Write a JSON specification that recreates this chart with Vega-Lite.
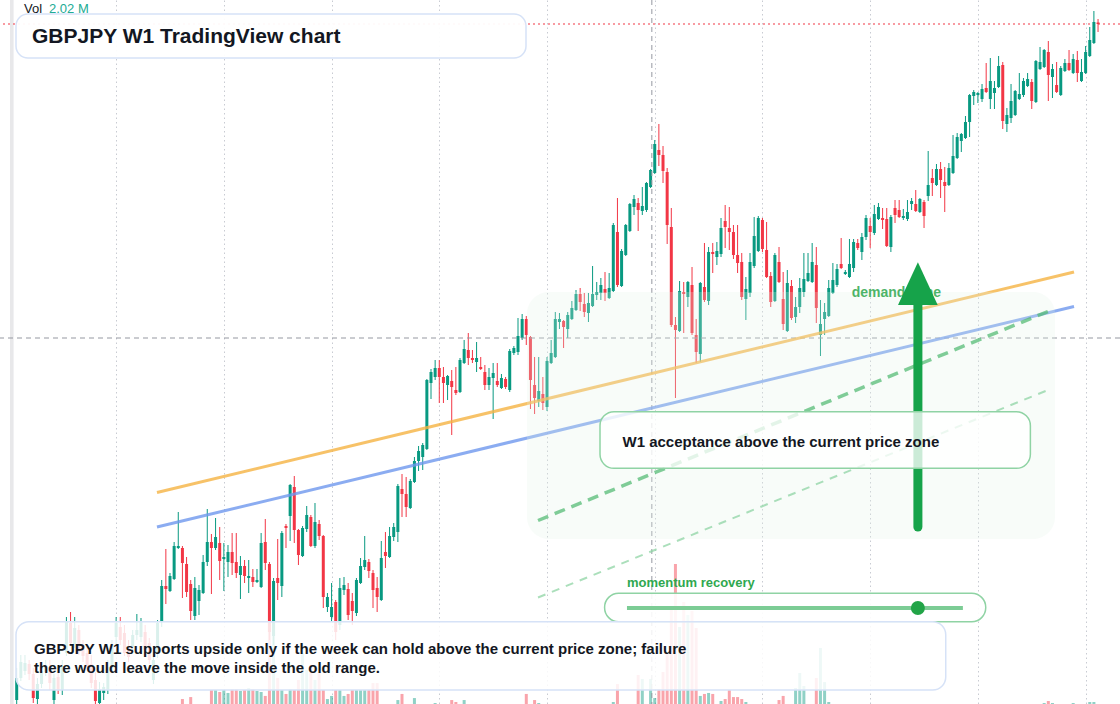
{
"$schema": "https://vega.github.io/schema/vega-lite/v6.json",
"width": 1120, "height": 704,
"autosize": {"type": "none"},
"padding": 0,
"background": "#ffffff",
"config": {"view": {"stroke": null}, "font": "Liberation Sans", "scale": {"continuousPadding": 0}, "axis": {"labels": false, "ticks": false, "domain": false, "grid": true, "gridColor": "#c8cbd2", "gridDash": [1.5, 3], "gridWidth": 1}},
"datasets": {"k": [
{"i":0,"o":130,"h":133.2,"l":129.6,"c":132.2},
{"i":1,"o":132.2,"h":134.5,"l":131.9,"c":133.8},
{"i":2,"o":132.9,"h":134.5,"l":132.5,"c":133.7},
{"i":3,"o":133.6,"h":134,"l":132,"c":132.6},
{"i":4,"o":132.6,"h":133.2,"l":129.7,"c":130.2},
{"i":5,"o":130.1,"h":132.2,"l":129.6,"c":131.6},
{"i":6,"o":131.6,"h":133.6,"l":131.2,"c":132.9},
{"i":7,"o":132.8,"h":134,"l":132.4,"c":133.4},
{"i":8,"o":133.3,"h":134,"l":131,"c":131.7},
{"i":9,"o":130,"h":132.6,"l":129.6,"c":132.2},
{"i":10,"o":132.3,"h":133.2,"l":130.6,"c":131},
{"i":11,"o":131,"h":134,"l":130.5,"c":133.4},
{"i":12,"o":134.7,"h":138.3,"l":134.4,"c":137.8},
{"i":13,"o":137.7,"h":138.8,"l":135.4,"c":135.7},
{"i":14,"o":135.6,"h":138.3,"l":135.2,"c":137.2},
{"i":15,"o":137,"h":137.5,"l":134.5,"c":134.8},
{"i":16,"o":135.5,"h":136,"l":133.8,"c":134.4},
{"i":17,"o":134.7,"h":135.5,"l":133,"c":133.3},
{"i":18,"o":133.6,"h":134.5,"l":131.2,"c":131.7},
{"i":19,"o":132,"h":132.8,"l":129.6,"c":129.9},
{"i":20,"o":129.7,"h":131.8,"l":129.6,"c":131.1},
{"i":21,"o":130.7,"h":131.7,"l":130,"c":131.3},
{"i":22,"o":131,"h":134,"l":130.6,"c":133.3},
{"i":23,"o":133.2,"h":136,"l":132.8,"c":135.5},
{"i":24,"o":136.3,"h":138.3,"l":135.5,"c":137.7},
{"i":25,"o":137.3,"h":138.3,"l":135.5,"c":136},
{"i":26,"o":136.7,"h":137.5,"l":134.4,"c":134.7},
{"i":27,"o":135.3,"h":136,"l":133.8,"c":134.3},
{"i":28,"o":135.3,"h":137,"l":134.8,"c":136.5},
{"i":29,"o":136.5,"h":138.6,"l":136,"c":137},
{"i":30,"o":136.3,"h":138.2,"l":135.8,"c":137.8},
{"i":31,"o":136.8,"h":137.5,"l":134.6,"c":135},
{"i":32,"o":135.7,"h":136.2,"l":133.6,"c":134},
{"i":33,"o":132,"h":134.8,"l":131.6,"c":134},
{"i":34,"o":134.7,"h":138,"l":134.2,"c":137.7},
{"i":35,"o":137.8,"h":142,"l":137.3,"c":141.4},
{"i":36,"o":141.4,"h":145.1,"l":139.6,"c":141.1},
{"i":37,"o":140.9,"h":142.7,"l":140.8,"c":142.4},
{"i":38,"o":142.1,"h":145.8,"l":142,"c":145.4},
{"i":39,"o":145.2,"h":148.8,"l":145.1,"c":145.4},
{"i":40,"o":145.2,"h":145.4,"l":140.2,"c":143.7,"v":0.4},
{"i":41,"o":143.6,"h":144.3,"l":140.3,"c":140.8},
{"i":42,"o":141.6,"h":142,"l":138,"c":138.9,"v":0.56},
{"i":43,"o":138.4,"h":142.3,"l":138,"c":141.2},
{"i":44,"o":139.9,"h":141.5,"l":138.5,"c":141},
{"i":45,"o":140.7,"h":144.5,"l":140.6,"c":143.8},
{"i":46,"o":143.8,"h":149.1,"l":143.4,"c":145.8},
{"i":47,"o":145.8,"h":146.6,"l":140.6,"c":145.2,"v":1.13},
{"i":48,"o":145.2,"h":148.2,"l":145,"c":146.3,"v":1.13},
{"i":49,"o":145.7,"h":147.3,"l":142,"c":143.9,"v":0.97},
{"i":50,"o":144.1,"h":145.7,"l":140.9,"c":144.3,"v":1.13},
{"i":51,"o":143.8,"h":145.5,"l":142.3,"c":144.8,"v":0.89},
{"i":52,"o":144.8,"h":146.7,"l":142.5,"c":143.7,"v":1.21},
{"i":53,"o":143.8,"h":146.7,"l":142.2,"c":142.7,"v":1.21},
{"i":54,"o":142.5,"h":144.4,"l":140.1,"c":143.4,"v":1.05},
{"i":55,"o":143.4,"h":144,"l":141.7,"c":142.4,"v":1.13},
{"i":56,"o":142.2,"h":144,"l":140.7,"c":142.4,"v":1.29},
{"i":57,"o":142.3,"h":143.1,"l":141.3,"c":141.8,"v":1.21},
{"i":58,"o":141.8,"h":143.1,"l":141.7,"c":142,"v":1.05},
{"i":59,"o":141.3,"h":146.7,"l":141.2,"c":145.7,"v":0.97},
{"i":60,"o":145.8,"h":148.1,"l":143,"c":143.7,"v":0.65},
{"i":61,"o":143.6,"h":143.8,"l":136,"c":136.8,"v":6.53},
{"i":62,"o":136.4,"h":142.2,"l":135.5,"c":141.9,"v":6.77},
{"i":63,"o":142.2,"h":146.1,"l":140,"c":141.7,"v":2.1},
{"i":64,"o":141.4,"h":146.9,"l":140.3,"c":146.7,"v":1.13},
{"i":65,"o":147.4,"h":147.6,"l":145.2,"c":147.2,"v":0.81},
{"i":66,"o":148.4,"h":151.6,"l":145.9,"c":151.5,"v":1.21},
{"i":67,"o":151.3,"h":152.4,"l":145.7,"c":147,"v":1.13},
{"i":68,"o":147,"h":147.1,"l":143.5,"c":144.5,"v":1.94},
{"i":69,"o":144.4,"h":147.4,"l":144.3,"c":147.2,"v":4.11},
{"i":70,"o":147.1,"h":149.4,"l":146.8,"c":148.5,"v":2.74},
{"i":71,"o":148.3,"h":148.5,"l":145.3,"c":145.4,"v":3.15},
{"i":72,"o":145.4,"h":149.7,"l":145.2,"c":147.8,"v":1.94},
{"i":73,"o":147.6,"h":148,"l":146,"c":146.4,"v":2.58},
{"i":74,"o":146.4,"h":146.5,"l":139.2,"c":140.3,"v":1.13},
{"i":75,"o":139.3,"h":140.7,"l":138.8,"c":140.3,"v":0.4},
{"i":76,"o":138.3,"h":141.7,"l":137.8,"c":139.3,"v":0.65},
{"i":77,"o":139.8,"h":140,"l":136,"c":136.8,"v":1.13},
{"i":78,"o":137.5,"h":142.2,"l":137,"c":141.2,"v":1.13},
{"i":79,"o":141,"h":142.3,"l":140.5,"c":141.5,"v":0.65},
{"i":80,"o":141.1,"h":141.7,"l":138,"c":138.5,"v":0.81},
{"i":81,"o":139.9,"h":140.7,"l":137.5,"c":138.9,"v":1.13},
{"i":82,"o":138.7,"h":142.2,"l":138.4,"c":142,"v":1.13},
{"i":83,"o":141.7,"h":144.2,"l":141.6,"c":143.4,"v":1.13},
{"i":84,"o":143.3,"h":146.4,"l":143,"c":144,"v":1.13},
{"i":85,"o":143.8,"h":144.1,"l":142.2,"c":142.9,"v":1.13},
{"i":86,"o":142.7,"h":143,"l":139.2,"c":141,"v":1.69},
{"i":87,"o":141.2,"h":142.3,"l":138.8,"c":140.3,"v":1.69},
{"i":88,"o":140,"h":145.9,"l":139.9,"c":144.2},
{"i":89,"o":144.8,"h":146.8,"l":143.2,"c":144.4},
{"i":90,"o":144.3,"h":147.3,"l":144.2,"c":146.4},
{"i":91,"o":146.3,"h":147.7,"l":145.9,"c":147.3},
{"i":92,"o":146.8,"h":151.6,"l":145.8,"c":151.4,"v":0.32},
{"i":93,"o":151.1,"h":152.6,"l":148.3,"c":150.6,"v":0.81},
{"i":94,"o":150.6,"h":152.3,"l":148.3,"c":149.3},
{"i":95,"o":149.2,"h":152.1,"l":149.1,"c":151.9},
{"i":96,"o":151.8,"h":154.3,"l":151.7,"c":153.9,"v":0.48},
{"i":97,"o":153.9,"h":155.4,"l":152.9,"c":154.9},
{"i":98,"o":154.3,"h":155.7,"l":153,"c":155.5},
{"i":99,"o":155.1,"h":162.1,"l":155,"c":162},
{"i":100,"o":161.7,"h":163.1,"l":160.1,"c":162.8},
{"i":101,"o":162.3,"h":164,"l":162,"c":163.2,"v":0.08},
{"i":102,"o":163.2,"h":164,"l":159.7,"c":162.3},
{"i":103,"o":162.3,"h":163.3,"l":159.7,"c":161.7},
{"i":104,"o":161.5,"h":162.5,"l":160,"c":162.4},
{"i":105,"o":161.9,"h":163,"l":156.5,"c":161.3,"v":0.32},
{"i":106,"o":161,"h":163.3,"l":160.5,"c":160.7,"v":0.16},
{"i":107,"o":160.8,"h":164.2,"l":160.7,"c":164},
{"i":108,"o":163.7,"h":166,"l":163.6,"c":165.1,"v":0.32},
{"i":109,"o":165,"h":166.7,"l":163.5,"c":164.2},
{"i":110,"o":164.2,"h":165,"l":163.7,"c":164},
{"i":111,"o":163.8,"h":165.8,"l":162.8,"c":164.2},
{"i":112,"o":163.3,"h":164.3,"l":163,"c":163.1},
{"i":113,"o":162.8,"h":163.5,"l":161,"c":161.5},
{"i":114,"o":161.5,"h":163.2,"l":161,"c":162.3},
{"i":115,"o":162.2,"h":163.7,"l":158.1,"c":162.7},
{"i":116,"o":161.9,"h":163.7,"l":161.3,"c":161.5},
{"i":117,"o":161.2,"h":162.6,"l":161.1,"c":162.2},
{"i":118,"o":162.1,"h":162.3,"l":161.1,"c":161.3},
{"i":119,"o":161,"h":165.1,"l":160.8,"c":164.9},
{"i":120,"o":164.7,"h":165.4,"l":164.5,"c":165.2},
{"i":121,"o":164.8,"h":168.2,"l":164.5,"c":166.4},
{"i":122,"o":166.2,"h":168.6,"l":166,"c":168.1},
{"i":123,"o":168.1,"h":168.4,"l":165.5,"c":166.5,"v":0.81},
{"i":124,"o":166.3,"h":166.4,"l":159.1,"c":162},
{"i":125,"o":161.5,"h":164.3,"l":158.6,"c":160.2,"v":0.32},
{"i":126,"o":159.9,"h":164.3,"l":159.3,"c":160.9,"v":0.08},
{"i":127,"o":160.6,"h":162.3,"l":159,"c":159.7},
{"i":128,"o":159.3,"h":164.3,"l":158.9,"c":163.9},
{"i":129,"o":163.7,"h":166,"l":163.6,"c":164.7},
{"i":130,"o":164.3,"h":168.8,"l":164.2,"c":168.1},
{"i":131,"o":167.8,"h":168.7,"l":167.1,"c":168.1},
{"i":132,"o":167.9,"h":168,"l":165.2,"c":167.3},
{"i":133,"o":167.1,"h":168.8,"l":166.2,"c":168.5},
{"i":134,"o":168.1,"h":169.9,"l":168,"c":169.2},
{"i":135,"o":169,"h":171,"l":168.9,"c":170.6},
{"i":136,"o":170.6,"h":171.2,"l":168.9,"c":169.8},
{"i":137,"o":169.6,"h":170.7,"l":168.3,"c":168.8},
{"i":138,"o":168.7,"h":170.7,"l":167.8,"c":169.7},
{"i":139,"o":169.4,"h":173.4,"l":169.3,"c":170.6},
{"i":140,"o":170.5,"h":171.8,"l":170,"c":170.8},
{"i":141,"o":170.7,"h":172.2,"l":170,"c":171.5},
{"i":142,"o":171.1,"h":172.8,"l":169.9,"c":170.7},
{"i":143,"o":170.2,"h":172.7,"l":170.1,"c":171.2},
{"i":144,"o":170.9,"h":177.7,"l":170.8,"c":177.5,"v":0.16},
{"i":145,"o":176.8,"h":180.2,"l":171.3,"c":171.5,"v":1.61},
{"i":146,"o":171.4,"h":175.1,"l":171.3,"c":174.9},
{"i":147,"o":174.5,"h":177.6,"l":174.4,"c":177.5},
{"i":148,"o":176.9,"h":179.7,"l":176.8,"c":179.6},
{"i":149,"o":179.3,"h":180.5,"l":178.5,"c":180.1},
{"i":150,"o":179.7,"h":180.2,"l":176.9,"c":179,"v":2.34},
{"i":151,"o":178.9,"h":181.3,"l":178.5,"c":179.4,"v":2.02},
{"i":152,"o":179,"h":181.8,"l":178.8,"c":181.7},
{"i":153,"o":181.3,"h":183.1,"l":181.2,"c":183,"v":2.02},
{"i":154,"o":182.7,"h":186,"l":182.6,"c":185.6,"v":0.48},
{"i":155,"o":185,"h":187.6,"l":183.4,"c":184.5,"v":1.21},
{"i":156,"o":184.5,"h":185.4,"l":181.7,"c":182.9,"v":2.58},
{"i":157,"o":182.8,"h":183.2,"l":175.6,"c":177.5,"v":4.03},
{"i":158,"o":177.3,"h":179.2,"l":167.3,"c":167.5,"v":7.58},
{"i":159,"o":167.5,"h":168.3,"l":160.2,"c":167,"v":11.29},
{"i":160,"o":166.9,"h":171.9,"l":166.8,"c":170.9,"v":6.21},
{"i":161,"o":170.8,"h":171.8,"l":166.7,"c":170.6,"v":8.23},
{"i":162,"o":170.3,"h":171.9,"l":169.3,"c":171.8,"v":7.18},
{"i":163,"o":171.5,"h":173.3,"l":166.5,"c":166.7,"v":7.5},
{"i":164,"o":166.5,"h":168.1,"l":163.7,"c":164.8,"v":6.13},
{"i":165,"o":164.6,"h":171.8,"l":163.8,"c":171.7,"v":0.65},
{"i":166,"o":171.3,"h":175.7,"l":169.8,"c":170,"v":0.81},
{"i":167,"o":169.9,"h":175.3,"l":169.5,"c":174.8,"v":0.89},
{"i":168,"o":174.8,"h":175.7,"l":172.7,"c":174.6,"v":0.81},
{"i":169,"o":174.3,"h":175.8,"l":173.5,"c":174.9},
{"i":170,"o":174.6,"h":178.2,"l":174.3,"c":177.2,"v":0.24},
{"i":171,"o":177.9,"h":179.5,"l":175.2,"c":177.3,"v":0.4},
{"i":172,"o":177.2,"h":179.3,"l":175,"c":176.8,"v":1.13},
{"i":173,"o":176.8,"h":177.5,"l":174.1,"c":174.5,"v":0.56},
{"i":174,"o":174.5,"h":177.5,"l":172.7,"c":173.7,"v":0.56},
{"i":175,"o":173.8,"h":174.7,"l":170,"c":170.3,"v":0.4},
{"i":176,"o":170.1,"h":172.3,"l":168,"c":171.1,"v":0.16},
{"i":177,"o":170.7,"h":174.7,"l":170.3,"c":173.8},
{"i":178,"o":173.4,"h":178.3,"l":173.2,"c":176.4},
{"i":179,"o":174.9,"h":178.4,"l":174.8,"c":178.2},
{"i":180,"o":178,"h":178.2,"l":174.8,"c":175.1},
{"i":181,"o":175,"h":177.8,"l":172.2,"c":172.3},
{"i":182,"o":172.4,"h":172.8,"l":169.3,"c":169.8},
{"i":183,"o":169.9,"h":174.7,"l":169.8,"c":174.5},
{"i":184,"o":173.8,"h":175.3,"l":171.7,"c":171.8,"v":0.32},
{"i":185,"o":170.1,"h":172.8,"l":167,"c":167.6,"v":0.65},
{"i":186,"o":166.9,"h":173,"l":166.8,"c":171.7},
{"i":187,"o":171.4,"h":172,"l":168,"c":168.2},
{"i":188,"o":168.3,"h":170.3,"l":167.7,"c":169.3,"v":1.29},
{"i":189,"o":169.3,"h":172.2,"l":168.7,"c":171.2,"v":2.5},
{"i":190,"o":170.8,"h":174.7,"l":170.3,"c":172.1,"v":1.45},
{"i":191,"o":171.9,"h":174.7,"l":171.8,"c":172.7},
{"i":192,"o":171.8,"h":175.7,"l":171.7,"c":173.8},
{"i":193,"o":173.5,"h":175.3,"l":167.7,"c":169.2,"v":2.1},
{"i":194,"o":166.5,"h":170,"l":164.4,"c":167.6,"v":4.52},
{"i":195,"o":168.1,"h":169.7,"l":166.5,"c":168.8,"v":1.77},
{"i":196,"o":168.4,"h":172,"l":168.3,"c":171.2,"v":0.16},
{"i":197,"o":170.7,"h":173.7,"l":170.6,"c":172},
{"i":198,"o":171.5,"h":173.6,"l":171.3,"c":173.1},
{"i":199,"o":173.6,"h":176.2,"l":173.1,"c":173.2},
{"i":200,"o":172.6,"h":173,"l":172.5,"c":172.8},
{"i":201,"o":172.3,"h":176.1,"l":172.2,"c":173.6},
{"i":202,"o":173.2,"h":176.1,"l":172.8,"c":175.8},
{"i":203,"o":175.7,"h":176.1,"l":175,"c":175.2},
{"i":204,"o":174.8,"h":176.7,"l":174,"c":176.3},
{"i":205,"o":176.3,"h":178.5,"l":176,"c":178.2},
{"i":206,"o":177.4,"h":178.2,"l":175.2,"c":176.8},
{"i":207,"o":176.7,"h":179.5,"l":176.5,"c":178.6},
{"i":208,"o":178.1,"h":179.7,"l":178,"c":179.3},
{"i":209,"o":178.2,"h":179.2,"l":177.1,"c":178},
{"i":210,"o":178.1,"h":179.2,"l":175.3,"c":175.4},
{"i":211,"o":175.3,"h":178.5,"l":174.8,"c":178.3},
{"i":212,"o":179.2,"h":180,"l":177.7,"c":178.5},
{"i":213,"o":179,"h":180,"l":178.2,"c":178.3},
{"i":214,"o":178.2,"h":179.1,"l":178,"c":178.4},
{"i":215,"o":178.1,"h":180,"l":177.9,"c":178.8},
{"i":216,"o":179.6,"h":180.2,"l":179,"c":179.9},
{"i":217,"o":179.6,"h":181,"l":178.8,"c":178.9},
{"i":218,"o":178.8,"h":180.2,"l":178.7,"c":180.1},
{"i":219,"o":179.8,"h":180,"l":177.2,"c":178.4},
{"i":220,"o":180.4,"h":184.9,"l":179.9,"c":181.5},
{"i":221,"o":182.2,"h":183.1,"l":180.4,"c":181.7},
{"i":222,"o":181.5,"h":183.6,"l":181.4,"c":183.1},
{"i":223,"o":183.1,"h":183.8,"l":180.2,"c":182},
{"i":224,"o":181.8,"h":183.3,"l":178.8,"c":181.4},
{"i":225,"o":181.5,"h":183.7,"l":181.4,"c":183.2},
{"i":226,"o":182.7,"h":186.5,"l":182.6,"c":184.4},
{"i":227,"o":184.2,"h":186.7,"l":184.1,"c":186.3},
{"i":228,"o":185.9,"h":186.7,"l":184.8,"c":186.6},
{"i":229,"o":186.2,"h":188.4,"l":186.1,"c":187.8},
{"i":230,"o":187.8,"h":190.6,"l":186.3,"c":190.5},
{"i":231,"o":190.4,"h":191,"l":189.5,"c":190.8},
{"i":232,"o":190.5,"h":190.8,"l":189.7,"c":190.7},
{"i":233,"o":190.1,"h":191.6,"l":189.8,"c":191.1},
{"i":234,"o":191.2,"h":193.7,"l":190.7,"c":190.8},
{"i":235,"o":190.1,"h":194.2,"l":189.1,"c":191.9},
{"i":236,"o":190.7,"h":191.9,"l":189.1,"c":191.2},
{"i":237,"o":191.3,"h":194.4,"l":191.2,"c":193.4},
{"i":238,"o":193.5,"h":193.8,"l":187.1,"c":187.9},
{"i":239,"o":187.6,"h":189.2,"l":186.8,"c":188.5},
{"i":240,"o":188.2,"h":191.6,"l":187.7,"c":189.9},
{"i":241,"o":188.5,"h":191,"l":188.4,"c":190.9},
{"i":242,"o":190.1,"h":192.7,"l":190,"c":190.6},
{"i":243,"o":190.5,"h":192.2,"l":190.3,"c":191.9},
{"i":244,"o":191.4,"h":192.7,"l":191.3,"c":192.1},
{"i":245,"o":191.8,"h":192.1,"l":189.1,"c":189.9},
{"i":246,"o":189.8,"h":194,"l":189.7,"c":193.9},
{"i":247,"o":193.1,"h":195.3,"l":193,"c":193.8},
{"i":248,"o":193.3,"h":195.1,"l":193.2,"c":195,"v":0.08},
{"i":249,"o":194.8,"h":195.9,"l":189.9,"c":192.5,"v":0.24},
{"i":250,"o":192.3,"h":193.6,"l":190.2,"c":193.1,"v":0.08},
{"i":251,"o":191.5,"h":193.8,"l":190.7,"c":190.8},
{"i":252,"o":190.5,"h":193.4,"l":190.4,"c":193.2},
{"i":253,"o":192.9,"h":194.1,"l":192.8,"c":193.7},
{"i":254,"o":193.7,"h":195,"l":192.9,"c":193},
{"i":255,"o":192.7,"h":194.6,"l":192.6,"c":194.1,"v":0.08},
{"i":256,"o":194,"h":194.9,"l":191.8,"c":192.7},
{"i":257,"o":191.9,"h":194.1,"l":191.8,"c":192.8},
{"i":258,"o":192.7,"h":195.4,"l":192.6,"c":194.8},
{"i":259,"o":194.4,"h":197.3,"l":194.3,"c":196,"v":0.16},
{"i":260,"o":195.7,"h":198.9,"l":195.6,"c":197.8,"v":0.16},
{"i":261,"o":197.75,"h":198.1,"l":196.8,"c":197.6}
]},
"resolve": {"scale": {"y": "independent"}},
"layer": [
{
 "data": {"name": "k"},
 "transform": [{"filter": "datum.v > 0"}],
 "mark": {"type": "bar", "size": 3, "opacity": 0.45},
 "encoding": {
  "x": {"field": "i", "type": "quantitative", "scale": {"domain": [-4.03, 266.3], "nice": false, "zero": false, "padding": 0}, "axis": {"values": [24, 50, 76, 102, 128, 154, 180, 206, 232, 258], "title": null}},
  "y": {"field": "v", "type": "quantitative", "scale": {"domain": [0, 56.77], "nice": false, "zero": true, "padding": 0}, "axis": null},
  "color": {"condition": {"test": "datum.c >= datum.o", "value": "#089981"}, "value": "#f23645"}
 }
},
{
 "layer": [
 {
  "data": {"values": [{"a": -1.62, "b": -0.75, "lo": 129.6, "hi": 200}]},
  "mark": {"type": "rect", "color": "#e8e8ea"},
  "encoding": {
   "x": {"field": "a", "type": "quantitative", "scale": {"domain": [-4.03, 266.3], "nice": false, "zero": false, "padding": 0}, "axis": {"values": [24, 50, 76, 102, 128, 154, 180, 206, 232, 258], "title": null}},
   "x2": {"field": "b"},
   "y": {"field": "lo", "type": "quantitative", "scale": {"domain": [129.6, 200], "nice": false, "zero": false, "padding": 0}, "axis": {"values": [199.26, 195.33, 191.4, 187.47, 183.54, 179.61, 175.68, 171.75, 167.82, 163.89, 159.96, 156.03, 152.1, 148.17, 144.24, 140.31, 136.38, 132.45], "title": null}},
   "y2": {"field": "hi"}
  }
 },
 {
  "data": {"values": [{"p": 197.6}]},
  "mark": {"type": "rule", "color": "#f23645", "strokeDash": [2, 3], "strokeWidth": 1.2},
  "encoding": {"y": {"field": "p", "type": "quantitative", "scale": {"domain": [129.6, 200], "nice": false, "zero": false, "padding": 0}}}
 },
 {
  "data": {"name": "k"},
  "mark": {"type": "rule", "strokeWidth": 1},
  "encoding": {
   "x": {"field": "i", "type": "quantitative", "scale": {"domain": [-4.03, 266.3], "nice": false, "zero": false, "padding": 0}},
   "y": {"field": "l", "type": "quantitative", "scale": {"domain": [129.6, 200], "nice": false, "zero": false, "padding": 0}},
   "y2": {"field": "h"},
   "color": {"condition": {"test": "datum.c >= datum.o", "value": "#089981"}, "value": "#f23645"}
  }
 },
 {
  "data": {"name": "k"},
  "mark": {"type": "bar", "size": 3},
  "encoding": {
   "x": {"field": "i", "type": "quantitative", "scale": {"domain": [-4.03, 266.3], "nice": false, "zero": false, "padding": 0}},
   "y": {"field": "o", "type": "quantitative", "scale": {"domain": [129.6, 200], "nice": false, "zero": false, "padding": 0}},
   "y2": {"field": "c"},
   "color": {"condition": {"test": "datum.c >= datum.o", "value": "#089981"}, "value": "#f23645"}
  }
 },
 {
  "data": {"values": [{"i": 153.3}]},
  "mark": {"type": "rule", "color": "#9598a1", "strokeDash": [5, 4], "strokeWidth": 1},
  "encoding": {"x": {"field": "i", "type": "quantitative", "scale": {"domain": [-4.03, 266.3], "nice": false, "zero": false, "padding": 0}}}
 },
 {
  "data": {"values": [{"p": 166.2}]},
  "mark": {"type": "rule", "color": "#9598a1", "strokeDash": [5, 4], "strokeWidth": 1},
  "encoding": {"y": {"field": "p", "type": "quantitative", "scale": {"domain": [129.6, 200], "nice": false, "zero": false, "padding": 0}}}
 },
 {
  "data": {"values": [{"i": 33.86, "p": 150.75, "i2": 255.2, "p2": 172.8}]},
  "mark": {"type": "rule", "color": "#f5b342", "strokeWidth": 3, "opacity": 0.8},
  "encoding": {
   "x": {"field": "i", "type": "quantitative", "scale": {"domain": [-4.03, 266.3], "nice": false, "zero": false, "padding": 0}},
   "y": {"field": "p", "type": "quantitative", "scale": {"domain": [129.6, 200], "nice": false, "zero": false, "padding": 0}},
   "x2": {"field": "i2"}, "y2": {"field": "p2"}
  }
 },
 {
  "data": {"values": [{"i": 33.86, "p": 147.3, "i2": 255.2, "p2": 169.35}]},
  "mark": {"type": "rule", "color": "#6e97ee", "strokeWidth": 3, "opacity": 0.8},
  "encoding": {
   "x": {"field": "i", "type": "quantitative", "scale": {"domain": [-4.03, 266.3], "nice": false, "zero": false, "padding": 0}},
   "y": {"field": "p", "type": "quantitative", "scale": {"domain": [129.6, 200], "nice": false, "zero": false, "padding": 0}},
   "x2": {"field": "i2"}, "y2": {"field": "p2"}
  }
 },
 {
  "data": {"values": [{"a": 123.17, "b": 250.6, "lo": 146.1, "hi": 170.8}]},
  "mark": {"type": "rect", "color": "#e3f5e8", "opacity": 0.25, "cornerRadius": 22},
  "encoding": {
   "x": {"field": "a", "type": "quantitative", "scale": {"domain": [-4.03, 266.3], "nice": false, "zero": false, "padding": 0}},
   "x2": {"field": "b"},
   "y": {"field": "lo", "type": "quantitative", "scale": {"domain": [129.6, 200], "nice": false, "zero": false, "padding": 0}},
   "y2": {"field": "hi"}
  }
 },
 {
  "data": {"values": [{"i": 125.83, "p": 147.95, "i2": 248.92, "p2": 168.85}]},
  "mark": {"type": "rule", "color": "#4cb86e", "strokeWidth": 3.5, "opacity": 0.7, "strokeDash": [11, 7]},
  "encoding": {
   "x": {"field": "i", "type": "quantitative", "scale": {"domain": [-4.03, 266.3], "nice": false, "zero": false, "padding": 0}},
   "y": {"field": "p", "type": "quantitative", "scale": {"domain": [129.6, 200], "nice": false, "zero": false, "padding": 0}},
   "x2": {"field": "i2"}, "y2": {"field": "p2"}
  }
 },
 {
  "data": {"values": [{"i": 125.83, "p": 140.25, "i2": 248.92, "p2": 161.0}]},
  "mark": {"type": "rule", "color": "#8fd4a4", "strokeWidth": 2, "opacity": 0.75, "strokeDash": [8, 7]},
  "encoding": {
   "x": {"field": "i", "type": "quantitative", "scale": {"domain": [-4.03, 266.3], "nice": false, "zero": false, "padding": 0}},
   "y": {"field": "p", "type": "quantitative", "scale": {"domain": [129.6, 200], "nice": false, "zero": false, "padding": 0}},
   "x2": {"field": "i2"}, "y2": {"field": "p2"}
  }
 },
 {
  "data": {"values": [{"i": 201.54, "p": 170.7, "t": "demand zone"}]},
  "mark": {"type": "text", "align": "left", "baseline": "middle", "fontSize": 14, "fontWeight": "bold", "color": "#2fa84f", "opacity": 0.85},
  "encoding": {
   "x": {"field": "i", "type": "quantitative", "scale": {"domain": [-4.03, 266.3], "nice": false, "zero": false, "padding": 0}},
   "y": {"field": "p", "type": "quantitative", "scale": {"domain": [129.6, 200], "nice": false, "zero": false, "padding": 0}},
   "text": {"field": "t", "type": "nominal"}
  }
 },
 {
  "data": {"values": [{"i": 217.52, "p": 147.3, "p2": 169.6}]},
  "mark": {"type": "rule", "color": "#16a34a", "strokeWidth": 9, "strokeCap": "round"},
  "encoding": {
   "x": {"field": "i", "type": "quantitative", "scale": {"domain": [-4.03, 266.3], "nice": false, "zero": false, "padding": 0}},
   "y": {"field": "p", "type": "quantitative", "scale": {"domain": [129.6, 200], "nice": false, "zero": false, "padding": 0}},
   "y2": {"field": "p2"}
  }
 },
 {
  "data": {"values": [{"i": 212.72, "p": 169.5, "b": 169.5}, {"i": 217.52, "p": 173.77, "b": 169.5}, {"i": 222.3, "p": 169.5, "b": 169.5}]},
  "mark": {"type": "area", "color": "#16a34a", "opacity": 1, "interpolate": "linear"},
  "encoding": {
   "x": {"field": "i", "type": "quantitative", "scale": {"domain": [-4.03, 266.3], "nice": false, "zero": false, "padding": 0}},
   "y": {"field": "p", "type": "quantitative", "scale": {"domain": [129.6, 200], "nice": false, "zero": false, "padding": 0}},
   "y2": {"field": "b"}
  }
 },
 {
  "data": {"values": [{"a": 140.79, "b": 244.67, "lo": 153.17, "hi": 158.83}]},
  "mark": {"type": "rect", "fill": "#ffffff", "fillOpacity": 0.78, "stroke": "#8fd3a4", "strokeWidth": 1.5, "cornerRadius": 14},
  "encoding": {
   "x": {"field": "a", "type": "quantitative", "scale": {"domain": [-4.03, 266.3], "nice": false, "zero": false, "padding": 0}},
   "x2": {"field": "b"},
   "y": {"field": "lo", "type": "quantitative", "scale": {"domain": [129.6, 200], "nice": false, "zero": false, "padding": 0}},
   "y2": {"field": "hi"}
  }
 },
 {
  "data": {"values": [{"i": 146.22, "p": 155.77, "t": "W1 acceptance above the current price zone"}]},
  "mark": {"type": "text", "align": "left", "baseline": "middle", "fontSize": 15, "fontWeight": "bold", "color": "#131722"},
  "encoding": {
   "x": {"field": "i", "type": "quantitative", "scale": {"domain": [-4.03, 266.3], "nice": false, "zero": false, "padding": 0}},
   "y": {"field": "p", "type": "quantitative", "scale": {"domain": [129.6, 200], "nice": false, "zero": false, "padding": 0}},
   "text": {"field": "t", "type": "nominal"}
  }
 },
 {
  "data": {"values": [{"i": 147.3, "p": 141.73, "t": "momentum recovery"}]},
  "mark": {"type": "text", "align": "left", "baseline": "middle", "fontSize": 13, "fontWeight": "bold", "color": "#2fa84f"},
  "encoding": {
   "x": {"field": "i", "type": "quantitative", "scale": {"domain": [-4.03, 266.3], "nice": false, "zero": false, "padding": 0}},
   "y": {"field": "p", "type": "quantitative", "scale": {"domain": [129.6, 200], "nice": false, "zero": false, "padding": 0}},
   "text": {"field": "t", "type": "nominal"}
  }
 },
 {
  "data": {"values": [{"a": 141.9, "b": 233.89, "lo": 137.83, "hi": 140.67}]},
  "mark": {"type": "rect", "fill": "#ffffff", "fillOpacity": 0.9, "stroke": "#8fd3a4", "strokeWidth": 1.5, "cornerRadius": 14},
  "encoding": {
   "x": {"field": "a", "type": "quantitative", "scale": {"domain": [-4.03, 266.3], "nice": false, "zero": false, "padding": 0}},
   "x2": {"field": "b"},
   "y": {"field": "lo", "type": "quantitative", "scale": {"domain": [129.6, 200], "nice": false, "zero": false, "padding": 0}},
   "y2": {"field": "hi"}
  }
 },
 {
  "data": {"values": [{"i": 147.3, "p": 139.2, "i2": 228.38}]},
  "mark": {"type": "rule", "color": "#7ccc95", "strokeWidth": 4},
  "encoding": {
   "x": {"field": "i", "type": "quantitative", "scale": {"domain": [-4.03, 266.3], "nice": false, "zero": false, "padding": 0}},
   "y": {"field": "p", "type": "quantitative", "scale": {"domain": [129.6, 200], "nice": false, "zero": false, "padding": 0}},
   "x2": {"field": "i2"}
  }
 },
 {
  "data": {"values": [{"i": 217.52, "p": 139.2}]},
  "mark": {"type": "circle", "size": 196, "color": "#22a447", "opacity": 1},
  "encoding": {
   "x": {"field": "i", "type": "quantitative", "scale": {"domain": [-4.03, 266.3], "nice": false, "zero": false, "padding": 0}},
   "y": {"field": "p", "type": "quantitative", "scale": {"domain": [129.6, 200], "nice": false, "zero": false, "padding": 0}}
  }
 },
 {
  "data": {"values": [{"a": -0.17, "b": 224.24, "lo": 131.0, "hi": 137.83}]},
  "mark": {"type": "rect", "fill": "#ffffff", "fillOpacity": 0.85, "stroke": "#d6e2f7", "strokeWidth": 1.5, "cornerRadius": 13},
  "encoding": {
   "x": {"field": "a", "type": "quantitative", "scale": {"domain": [-4.03, 266.3], "nice": false, "zero": false, "padding": 0}},
   "x2": {"field": "b"},
   "y": {"field": "lo", "type": "quantitative", "scale": {"domain": [129.6, 200], "nice": false, "zero": false, "padding": 0}},
   "y2": {"field": "hi"}
  }
 },
 {
  "data": {"values": [{"i": 4.18, "p": 135.1, "t": "GBPJPY W1 supports upside only if the week can hold above the current price zone; failure"}, {"i": 4.18, "p": 133.17, "t": "there would leave the move inside the old range."}]},
  "mark": {"type": "text", "align": "left", "baseline": "middle", "fontSize": 15, "fontWeight": "bold", "color": "#131722"},
  "encoding": {
   "x": {"field": "i", "type": "quantitative", "scale": {"domain": [-4.03, 266.3], "nice": false, "zero": false, "padding": 0}},
   "y": {"field": "p", "type": "quantitative", "scale": {"domain": [129.6, 200], "nice": false, "zero": false, "padding": 0}},
   "text": {"field": "t", "type": "nominal"}
  }
 },
 {
  "data": {"values": [{"a": -0.17, "b": 122.93, "lo": 194.2, "hi": 198.6}]},
  "mark": {"type": "rect", "fill": "#ffffff", "fillOpacity": 0.95, "stroke": "#d6e2f7", "strokeWidth": 1.5, "cornerRadius": 12},
  "encoding": {
   "x": {"field": "a", "type": "quantitative", "scale": {"domain": [-4.03, 266.3], "nice": false, "zero": false, "padding": 0}},
   "x2": {"field": "b"},
   "y": {"field": "lo", "type": "quantitative", "scale": {"domain": [129.6, 200], "nice": false, "zero": false, "padding": 0}},
   "y2": {"field": "hi"}
  }
 },
 {
  "data": {"values": [{"i": 3.69, "p": 196.33, "t": "GBPJPY W1 TradingView chart"}]},
  "mark": {"type": "text", "align": "left", "baseline": "middle", "fontSize": 21, "fontWeight": "bold", "color": "#131722"},
  "encoding": {
   "x": {"field": "i", "type": "quantitative", "scale": {"domain": [-4.03, 266.3], "nice": false, "zero": false, "padding": 0}},
   "y": {"field": "p", "type": "quantitative", "scale": {"domain": [129.6, 200], "nice": false, "zero": false, "padding": 0}},
   "text": {"field": "t", "type": "nominal"}
  }
 },
 {
  "data": {"values": [{"i": 1.76, "p": 199.15, "t": "Vol"}]},
  "mark": {"type": "text", "align": "left", "baseline": "middle", "fontSize": 13, "color": "#131722"},
  "encoding": {
   "x": {"field": "i", "type": "quantitative", "scale": {"domain": [-4.03, 266.3], "nice": false, "zero": false, "padding": 0}},
   "y": {"field": "p", "type": "quantitative", "scale": {"domain": [129.6, 200], "nice": false, "zero": false, "padding": 0}},
   "text": {"field": "t", "type": "nominal"}
  }
 },
 {
  "data": {"values": [{"i": 7.8, "p": 199.15, "t": "2.02 M"}]},
  "mark": {"type": "text", "align": "left", "baseline": "middle", "fontSize": 13, "color": "#22ab94"},
  "encoding": {
   "x": {"field": "i", "type": "quantitative", "scale": {"domain": [-4.03, 266.3], "nice": false, "zero": false, "padding": 0}},
   "y": {"field": "p", "type": "quantitative", "scale": {"domain": [129.6, 200], "nice": false, "zero": false, "padding": 0}},
   "text": {"field": "t", "type": "nominal"}
  }
 }
 ]
}
]
}
